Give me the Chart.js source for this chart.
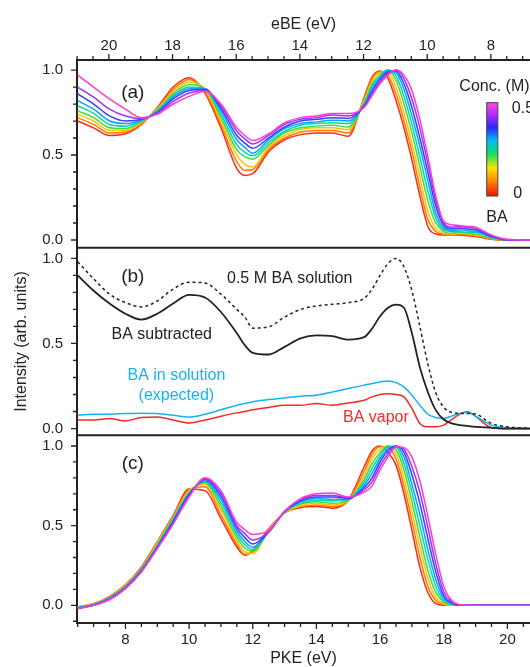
<!DOCTYPE html>
<html>
<head>
<meta charset="utf-8">
<script src="https://cdn.jsdelivr.net/npm/chart.js@4.4.0/dist/chart.umd.min.js"></script>
<style>
  html, body { margin: 0; padding: 0; background: #fff; }
  canvas { display: block; }
</style>
</head>
<body>
<canvas id="chart" width="530" height="667"></canvas>
<script>
// photoelectron kinetic energy grid (eV), shared by every trace
const PKE = [6.5, 7, 7.5, 8, 8.5, 9, 9.5, 10, 10.5, 11, 11.5, 11.75, 12, 12.5, 13, 13.5, 14, 14.5, 15,
             15.5, 15.75, 16, 16.25, 16.5, 16.75, 17, 17.25, 17.5, 17.75, 18, 18.25, 18.5, 18.75, 19, 19.5, 20, 21];

// photon energy used for the eBE axis on top (eBE = HV - PKE)
const HV = 27.48;

// panel (a): raw spectra, 0 M (red) up to 0.5 M (pink)
const A_C0 = [.70, .66, .615, .625, .68, .78, .90, .955, .865, .66, .42, .38, .39, .52, .59, .62, .63, .63, .61, .84, .96, .995, .95, .82, .66, .47, .26, .08, .035, .03, .03, .03, .025, .02, .005, 0, 0];
const A_C1 = [.72, .68, .63, .635, .685, .775, .885, .945, .875, .68, .46, .41, .415, .535, .60, .635, .645, .645, .63, .83, .95, .99, .97, .86, .70, .52, .31, .12, .05, .035, .03, .035, .03, .025, .005, 0, 0];
const A_C2 = [.74, .70, .645, .645, .69, .77, .87, .93, .885, .70, .50, .445, .43, .55, .615, .65, .66, .66, .65, .82, .935, .985, .99, .90, .75, .57, .37, .17, .07, .04, .035, .04, .035, .03, .01, 0, 0];
const A_C3 = [.76, .72, .66, .655, .695, .765, .86, .915, .89, .72, .53, .49, .475, .56, .63, .66, .67, .675, .665, .81, .92, .975, 1.0, .94, .80, .63, .43, .23, .10, .05, .04, .045, .04, .035, .01, 0, 0];
const A_C4 = [.79, .745, .68, .67, .70, .76, .85, .90, .89, .74, .56, .515, .495, .575, .64, .675, .685, .69, .685, .80, .905, .965, 1.0, .965, .845, .68, .49, .29, .13, .06, .05, .05, .045, .045, .015, 0, 0];
const A_C5 = [.82, .77, .70, .685, .705, .755, .84, .89, .89, .76, .59, .545, .51, .59, .655, .685, .695, .705, .70, .795, .89, .955, .995, .985, .885, .73, .55, .35, .16, .07, .055, .06, .055, .05, .02, 0, 0];
const A_C6 = [.86, .80, .73, .70, .71, .75, .83, .88, .885, .775, .615, .57, .54, .60, .665, .70, .71, .72, .715, .79, .875, .945, .99, .995, .92, .78, .60, .40, .20, .085, .065, .07, .065, .06, .02, 0, 0];
const A_C7 = [.90, .84, .77, .73, .715, .745, .815, .865, .88, .79, .64, .595, .565, .615, .68, .71, .72, .735, .73, .785, .86, .93, .98, 1.0, .95, .83, .66, .45, .23, .10, .075, .08, .075, .07, .025, 0, 0];
const A_C8 = [.97, .90, .83, .77, .72, .74, .80, .845, .875, .80, .66, .615, .585, .625, .69, .72, .73, .745, .745, .78, .85, .92, .97, 1.0, .97, .88, .71, .49, .26, .11, .09, .085, .08, .075, .03, .005, 0];

// panel (b)
const B_SOLUTION = [.98, .88, .79, .74, .715, .75, .82, .86, .855, .79, .70, .655, .59, .598, .655, .70, .72, .73, .74, .765, .82, .90, .97, 1.0, .95, .81, .60, .38, .21, .125, .095, .09, .088, .085, .03, .01, 0];
const B_SUBTRACTED = [.90, .81, .735, .675, .64, .675, .735, .785, .77, .685, .56, .49, .445, .435, .48, .53, .547, .543, .523, .537, .588, .66, .71, .728, .71, .56, .36, .215, .108, .053, .03, .02, .015, .01, .005, 0, 0];
const B_EXPECTED = [.078, .084, .084, .088, .09, .088, .078, .068, .084, .11, .137, .147, .157, .17, .18, .19, .196, .215, .235, .255, .265, .274, .28, .27, .245, .196, .137, .084, .065, .059, .074, .088, .094, .072, .02, .005, 0];
const B_VAPOR = [.05, .05, .059, .045, .065, .068, .05, .033, .05, .072, .092, .10, .11, .124, .137, .137, .147, .137, .15, .166, .186, .20, .205, .20, .186, .118, .03, .01, .01, .02, .053, .084, .098, .072, .005, 0, 0];

// panel (c): spectra after BA subtraction
const C_C0 = [-.01, .01, .055, .13, .24, .40, .565, .73, .72, .545, .366, .315, .345, .48, .58, .613, .62, .61, .66, .87, .97, 1.0, .96, .88, .70, .47, .24, .08, .01, 0, 0, 0, 0, 0, 0, 0, 0];
const C_C1 = [-.01, .01, .055, .125, .235, .395, .56, .725, .745, .57, .385, .32, .335, .475, .58, .62, .63, .62, .655, .84, .95, .995, .99, .92, .75, .53, .30, .12, .03, .005, 0, 0, 0, 0, 0, 0, 0];
const C_C2 = [-.01, .01, .05, .125, .23, .39, .55, .72, .76, .60, .405, .335, .325, .47, .582, .625, .64, .63, .66, .81, .92, .98, 1.0, .955, .80, .59, .37, .17, .05, .01, 0, 0, 0, 0, 0, 0, 0];
const C_C3 = [-.015, .005, .05, .12, .225, .38, .545, .71, .77, .62, .425, .36, .34, .465, .584, .635, .65, .64, .66, .79, .89, .96, 1.0, .98, .85, .65, .43, .22, .08, .02, .005, 0, 0, 0, 0, 0, 0];
const C_C4 = [-.015, .005, .045, .115, .225, .375, .54, .705, .775, .645, .445, .38, .35, .465, .585, .64, .66, .655, .665, .77, .86, .94, .995, .995, .89, .71, .50, .29, .12, .03, .005, 0, 0, 0, 0, 0, 0];
const C_C5 = [-.015, .005, .045, .115, .22, .37, .53, .70, .78, .665, .465, .40, .365, .46, .586, .65, .67, .665, .665, .755, .83, .92, .985, 1.0, .93, .76, .57, .35, .16, .045, .01, 0, 0, 0, 0, 0, 0];
const C_C6 = [-.02, 0, .04, .11, .215, .365, .525, .695, .79, .685, .485, .425, .385, .46, .588, .655, .68, .68, .67, .74, .80, .90, .97, 1.0, .96, .82, .64, .42, .21, .06, .015, 0, 0, 0, 0, 0, 0];
const C_C7 = [-.02, 0, .04, .105, .21, .36, .515, .685, .795, .705, .50, .45, .41, .46, .59, .665, .69, .69, .675, .725, .775, .875, .95, .995, .98, .87, .71, .49, .26, .085, .02, 0, 0, 0, 0, 0, 0];
const C_C8 = [-.02, 0, .035, .105, .21, .355, .51, .68, .80, .72, .52, .475, .445, .47, .59, .67, .70, .705, .68, .71, .75, .85, .93, .995, .99, .93, .78, .56, .32, .12, .03, .005, 0, 0, 0, 0, 0];

const A_SERIES = [A_C0, A_C1, A_C2, A_C3, A_C4, A_C5, A_C6, A_C7, A_C8];
const C_SERIES = [C_C0, C_C1, C_C2, C_C3, C_C4, C_C5, C_C6, C_C7, C_C8];
const RAINBOW = ['#ff2a10', '#ff7c00', '#ffc400', '#40dc40', '#00d6b4', '#12a0ff', '#3440ff', '#a030ff', '#ff3ccc'];

const FONT = "'Liberation Sans', Arial, Helvetica, sans-serif";
const INK = '#222';
const CYAN = '#14b4f0';
const RED = '#f22a2a';

Chart.defaults.font.family = FONT;
Chart.defaults.color = INK;

function trace(values, color, axis, extra) {
    return Object.assign({
        data: PKE.map((x, i) => ({x: x, y: values[i]})),
        borderColor: color,
        borderWidth: 1.5,
        pointRadius: 0,
        fill: false,
        cubicInterpolationMode: 'monotone',
        xAxisID: 'x',
        yAxisID: axis
    }, extra || {});
}

const datasets = [];
A_SERIES.forEach((vals, k) => datasets.push(trace(vals, RAINBOW[k], 'ya', {order: 20 - k})));
datasets.push(trace(B_SOLUTION, INK, 'yb', {borderDash: [3, 3], order: 1}));
datasets.push(trace(B_SUBTRACTED, INK, 'yb', {borderWidth: 1.8, order: 2}));
datasets.push(trace(B_EXPECTED, CYAN, 'yb', {order: 3}));
datasets.push(trace(B_VAPOR, RED, 'yb', {order: 4}));
C_SERIES.forEach((vals, k) => datasets.push(trace(vals, RAINBOW[k], 'yc', {order: 40 - k})));

// labels only on even eV values, minor ticks every 0.5 eV
function evenLabel(v) {
    return Math.abs(v / 2 - Math.round(v / 2)) < 1e-6 ? String(Math.round(v)) : '';
}
function yLabel(v) {
    const r = Math.round(v * 10);
    return (Math.abs(v * 10 - r) < 1e-6 && r % 5 === 0) ? (r / 10).toFixed(1) : '';
}

const tickFont = {family: FONT, size: 15};

function xAxis(extra) {
    return Object.assign({
        type: 'linear',
        ticks: {stepSize: 0.5, autoSkip: false, maxRotation: 0, includeBounds: false,
                font: tickFont, color: INK, callback: evenLabel},
        grid: {display: false},
        border: {color: INK, width: 2}
    }, extra);
}

function yAxis(min, max, weight, extra) {
    return Object.assign({
        type: 'linear',
        position: 'left',
        stack: 'panels',
        stackWeight: 1,
        weight: weight,
        min: min,
        max: max,
        ticks: {stepSize: 0.1, autoSkip: false, includeBounds: false, padding: 6,
                font: tickFont, color: INK, callback: yLabel},
        grid: {display: false, tickLength: 8},
        border: {color: INK, width: 2},
        afterFit: s => { s.width = 77; }
    }, extra || {});
}

const decorations = {
    id: 'decorations',
    afterDraw(chart) {
        const ctx = chart.ctx;
        const s = chart.scales;
        const area = chart.chartArea;
        ctx.save();

        // tick marks: long on labelled values, short otherwise
        ctx.strokeStyle = INK;
        ctx.lineWidth = 1.3;
        ctx.beginPath();
        s.x.ticks.forEach(t => {
            const px = s.x.getPixelForValue(t.value);
            ctx.moveTo(px, s.x.top);
            ctx.lineTo(px, s.x.top + (t.label ? 6 : 4));
        });
        s.x2.ticks.forEach(t => {
            const px = s.x2.getPixelForValue(t.value);
            ctx.moveTo(px, s.x2.bottom);
            ctx.lineTo(px, s.x2.bottom - (t.label ? 6 : 4));
        });
        [s.ya, s.yb, s.yc].forEach(sc => {
            sc.ticks.forEach(t => {
                const py = sc.getPixelForValue(t.value);
                ctx.moveTo(sc.right, py);
                ctx.lineTo(sc.right - (t.label ? 6 : 4), py);
            });
        });
        ctx.stroke();

        // panel separators
        ctx.lineWidth = 2;
        ctx.beginPath();
        [s.ya.bottom, s.yb.bottom].forEach(py => {
            ctx.moveTo(area.left, py);
            ctx.lineTo(area.right, py);
        });
        ctx.stroke();

        function text(str, pke, sc, val, color, size, align) {
            ctx.fillStyle = color;
            ctx.font = size + 'px ' + FONT;
            ctx.textAlign = align || 'center';
            ctx.textBaseline = 'middle';
            ctx.fillText(str, s.x.getPixelForValue(pke), sc.getPixelForValue(val));
        }

        text('(a)', 8.23, s.ya, 0.865, INK, 19);
        text('(b)', 8.23, s.yb, 0.89, INK, 19);
        text('(c)', 8.23, s.yc, 0.89, INK, 19);
        text('0.5 M BA solution', 11.19, s.yb, 0.884, INK, 16, 'left');
        text('BA subtracted', 9.14, s.yb, 0.55, INK, 16);
        text('BA in solution', 9.6, s.yb, 0.314, CYAN, 16);
        text('(expected)', 9.6, s.yb, 0.196, CYAN, 16);
        text('BA vapor', 15.87, s.yb, 0.066, RED, 16);

        // concentration colour bar
        text('Conc. (M)', 18.49, s.ya, 0.90, INK, 16, 'left');
        const bx0 = s.x.getPixelForValue(19.35), bx1 = s.x.getPixelForValue(19.70);
        const by0 = s.ya.getPixelForValue(0.808), by1 = s.ya.getPixelForValue(0.259);
        const g = ctx.createLinearGradient(0, by1, 0, by0);
        g.addColorStop(0, '#ff1000');
        g.addColorStop(0.15, '#ff8000');
        g.addColorStop(0.3, '#ffe000');
        g.addColorStop(0.45, '#10e060');
        g.addColorStop(0.6, '#00b8ff');
        g.addColorStop(0.73, '#2828ff');
        g.addColorStop(0.86, '#a828ff');
        g.addColorStop(1, '#ff48e0');
        ctx.fillStyle = g;
        ctx.fillRect(bx0, by0, bx1 - bx0, by1 - by0);
        ctx.strokeStyle = '#444';
        ctx.lineWidth = 1;
        ctx.strokeRect(bx0, by0, bx1 - bx0, by1 - by0);
        text('0.5', 20.14, s.ya, 0.776, INK, 16, 'left');
        text('0', 20.18, s.ya, 0.275, INK, 16, 'left');
        text('BA', 19.67, s.ya, 0.132, INK, 16);

        ctx.restore();
    }
};

new Chart(document.getElementById('chart'), {
    type: 'line',
    data: {datasets: datasets},
    options: {
        responsive: false,
        animation: false,
        devicePixelRatio: 1,
        layout: {padding: 0},
        plugins: {legend: {display: false}, tooltip: {enabled: false}},
        scales: {
            x: xAxis({
                position: 'bottom',
                min: 6.478,
                max: 20.71,
                ticks: {stepSize: 0.5, autoSkip: false, maxRotation: 0, includeBounds: false, padding: 4,
                        font: tickFont, color: INK, callback: evenLabel},
                grid: {display: false, tickLength: 4},
                title: {display: true, text: 'PKE (eV)', color: INK,
                        font: {family: FONT, size: 16, lineHeight: 1}, padding: {top: 0, bottom: 0}},
                afterFit: s => { s.height = 44; }
            }),
            x2: xAxis({
                position: 'top',
                reverse: true,
                min: HV - 20.71,
                max: HV - 6.478,
                ticks: {stepSize: 0.5, autoSkip: false, maxRotation: 0, includeBounds: false, padding: 3,
                        font: tickFont, color: INK, callback: evenLabel},
                grid: {display: false, tickLength: 2},
                title: {display: true, text: 'eBE (eV)', color: INK,
                        font: {family: FONT, size: 16, lineHeight: 1}, padding: {top: 17, bottom: 0}},
                afterFit: s => { s.height = 60; }
            }),
            ya: yAxis(-0.045, 1.059, 3),
            yb: yAxis(-0.04, 1.063, 2, {
                title: {display: true, text: 'Intensity (arb. units)', color: INK,
                        font: {family: FONT, size: 16, lineHeight: 1}, padding: {top: 14, bottom: 0}}
            }),
            yc: yAxis(-0.111, 1.067, 1)
        }
    },
    plugins: [decorations]
});
</script>
</body>
</html>
